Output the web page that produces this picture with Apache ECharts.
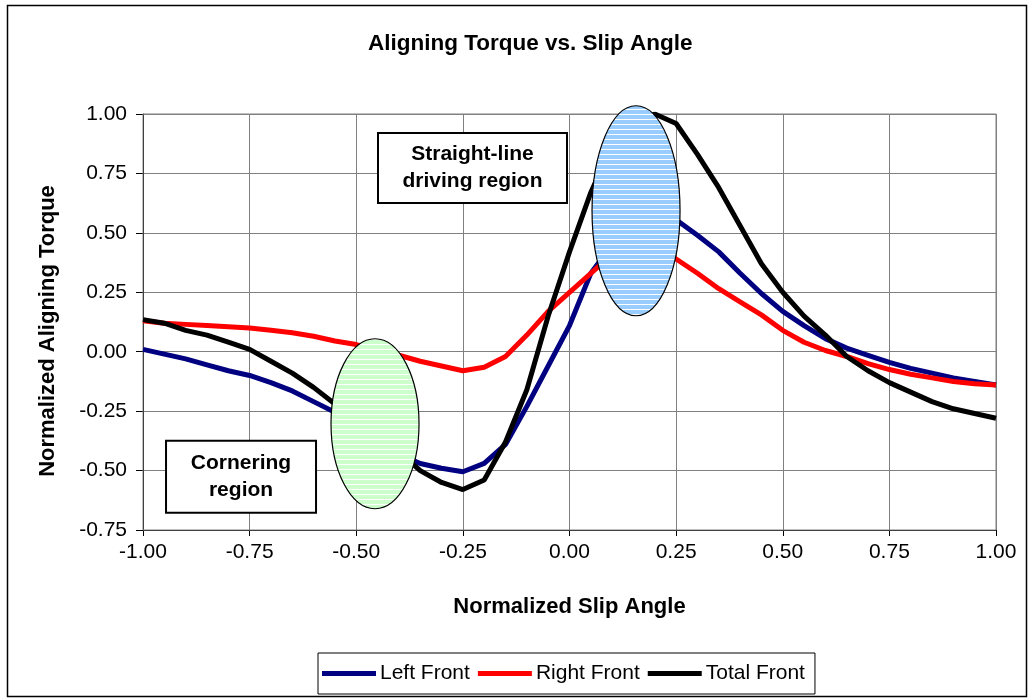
<!DOCTYPE html>
<html>
<head>
<meta charset="utf-8">
<script src="https://cdn.jsdelivr.net/npm/echarts@6/dist/echarts.min.js"></script>
<style>html,body{margin:0;padding:0;background:#fff;}#c{width:1034px;height:700px;}</style>
</head>
<body>
<div id="c"></div>
<script>
const slipAngle = [-1.00,-0.95,-0.90,-0.85,-0.80,-0.75,-0.70,-0.65,-0.60,-0.55,-0.50,-0.45,-0.40,-0.35,-0.30,-0.25,-0.20,-0.15,-0.10,-0.05,0.00,0.05,0.10,0.15,0.20,0.25,0.30,0.35,0.40,0.45,0.50,0.55,0.60,0.65,0.70,0.75,0.80,0.85,0.90,0.95,1.00];
const leftFront = [0.01,-0.01,-0.03,-0.055,-0.08,-0.10,-0.13,-0.165,-0.21,-0.255,-0.32,-0.375,-0.43,-0.47,-0.49,-0.505,-0.47,-0.39,-0.23,-0.06,0.11,0.33,0.45,0.55,0.58,0.555,0.49,0.42,0.33,0.245,0.17,0.11,0.055,0.015,-0.015,-0.045,-0.07,-0.09,-0.11,-0.125,-0.14];
const rightFront = [0.13,0.12,0.115,0.11,0.105,0.10,0.09,0.08,0.065,0.045,0.03,0.01,-0.015,-0.04,-0.06,-0.08,-0.065,-0.02,0.07,0.17,0.25,0.33,0.41,0.43,0.43,0.39,0.33,0.265,0.21,0.155,0.09,0.04,0.005,-0.02,-0.05,-0.075,-0.095,-0.11,-0.125,-0.135,-0.14];
const totalFront = [0.135,0.12,0.09,0.07,0.04,0.01,-0.04,-0.09,-0.15,-0.22,-0.28,-0.34,-0.42,-0.50,-0.55,-0.58,-0.54,-0.38,-0.16,0.15,0.42,0.67,0.87,0.97,1.00,0.96,0.83,0.69,0.53,0.37,0.25,0.15,0.07,-0.02,-0.08,-0.13,-0.17,-0.21,-0.24,-0.26,-0.28];
const seriesNames = ['Left Front','Right Front','Total Front'];
const seriesColors = ['#000080','#ff0000','#000000'];

function pair(ys){ return slipAngle.map((x,i)=>[x, ys[i]]); }

function stripes(base){
  const c = document.createElement('canvas');
  c.width = 8; c.height = 5;
  const g = c.getContext('2d');
  g.fillStyle = base; g.fillRect(0,0,8,5);
  g.fillStyle = '#ffffff'; g.fillRect(0,4,8,1);
  return c;
}

const font = 'Liberation Sans, Arial, sans-serif';
const chart = echarts.init(document.getElementById('c'), null, {renderer:'canvas'});
const dataSets = [leftFront, rightFront, totalFront];
chart.setOption({
  animation:false,
  backgroundColor:'#ffffff',
  title:{text:'Aligning Torque vs. Slip Angle', left:363, top:27,
    textStyle:{fontFamily:font, fontSize:22.5, fontWeight:'bold', color:'#000'}},
  grid:{left:143, right:38, top:114, bottom:170},
  legend:{top:653, left:318, data:seriesNames, icon:'rect', itemWidth:54, itemHeight:5, itemGap:8,
    borderColor:'#000', borderWidth:1, padding:[10,10,10,4],
    textStyle:{fontFamily:font, fontSize:21, color:'#000', padding:[0,0,0,-1]}},
  xAxis:{type:'value', min:-1, max:1, interval:0.25,
    name:'Normalized Slip Angle', nameLocation:'middle', nameGap:66,
    nameTextStyle:{fontFamily:font, fontSize:22, fontWeight:'bold', color:'#000'},
    axisLine:{onZero:false, lineStyle:{color:'#000', width:1}},
    axisTick:{show:true, length:6, lineStyle:{color:'#000'}},
    axisLabel:{formatter:v=>v.toFixed(2), fontFamily:font, fontSize:21, color:'#000', margin:12},
    splitLine:{show:true, lineStyle:{color:'#808080', width:1}}},
  yAxis:{type:'value', min:-0.75, max:1, interval:0.25,
    name:'Normalized Aligning Torque', nameLocation:'middle', nameGap:84,
    nameTextStyle:{fontFamily:font, fontSize:22, fontWeight:'bold', color:'#000', padding:[0,18,0,0]},
    axisLine:{show:true, onZero:false, lineStyle:{color:'#000', width:1}},
    axisTick:{show:true, length:7, lineStyle:{color:'#000'}},
    axisLabel:{formatter:v=>v.toFixed(2), fontFamily:font, fontSize:21, color:'#000', margin:16},
    splitLine:{show:true, lineStyle:{color:'#808080', width:1}}},
  series: seriesNames.map((n,i)=>({
    name:n, type:'line', data:pair(dataSets[i]), showSymbol:false, symbol:'none',
    lineStyle:{color:seriesColors[i], width:5}, itemStyle:{color:seriesColors[i]}, z:2
  }))
});

function px(x,y){ return chart.convertToPixel({gridIndex:0},[x,y]); }
const g1 = px(-0.456,-0.303), g2 = px(0.156,0.593);
const sl = px(-0.449,0.92), cr = px(-0.946,-0.375);
chart.setOption({
  graphic:[
    {type:'rect', shape:{x:7.5,y:5.5,width:1019,height:691}, style:{fill:'none', stroke:'#000', lineWidth:1.5}, z:0, silent:true},
    {type:'rect', shape:{x:143,y:114,width:853,height:416}, style:{fill:'none', stroke:'#808080', lineWidth:1}, z:1, silent:true},
    {type:'ellipse', shape:{cx:g1[0], cy:g1[1], rx:44, ry:85}, style:{fill:{image:stripes('#ccffcc'), repeat:'repeat'}, stroke:'#000', lineWidth:1.2}, z:10},
    {type:'ellipse', shape:{cx:g2[0], cy:g2[1], rx:44, ry:105}, style:{fill:{image:stripes('#99ccff'), repeat:'repeat'}, stroke:'#000', lineWidth:1.2}, z:10},
    {type:'group', x:sl[0], y:sl[1], z:11, children:[
      {type:'rect', shape:{x:0,y:0,width:189,height:70}, style:{fill:'#fff', stroke:'#000', lineWidth:2}},
      {type:'text', x:94.5, y:35, style:{text:'Straight-line\ndriving region', textAlign:'center', textVerticalAlign:'middle', font:'bold 21px '+font, fill:'#000', lineHeight:27}}
    ]},
    {type:'group', x:cr[0], y:cr[1], z:11, children:[
      {type:'rect', shape:{x:0,y:0,width:150,height:72}, style:{fill:'#fff', stroke:'#000', lineWidth:2}},
      {type:'text', x:75, y:36, style:{text:'Cornering\nregion', textAlign:'center', textVerticalAlign:'middle', font:'bold 21px '+font, fill:'#000', lineHeight:27}}
    ]}
  ]
});
</script>
</body>
</html>
